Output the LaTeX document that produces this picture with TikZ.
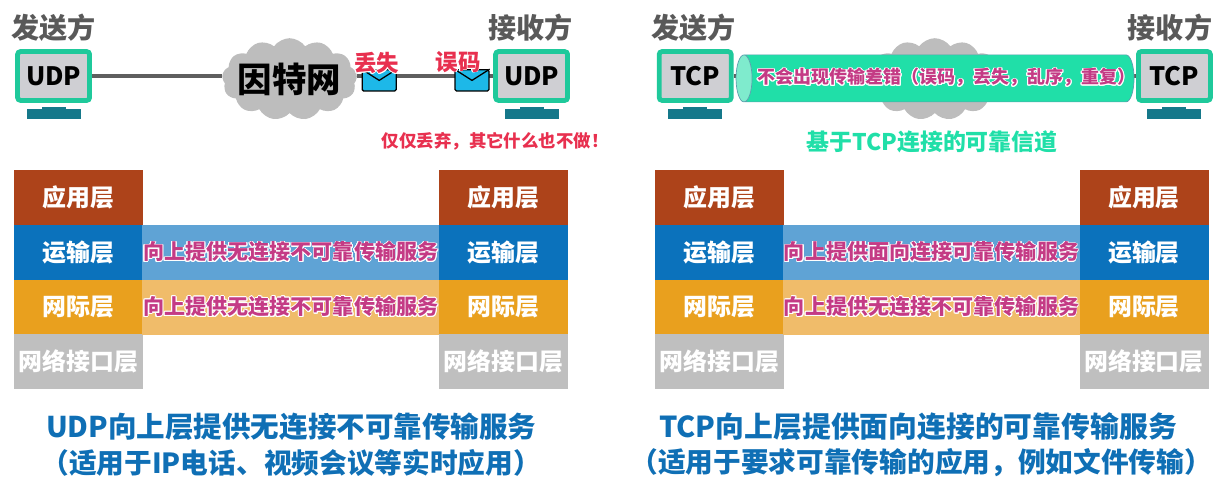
\documentclass[tikz,border=0pt]{standalone}
\usepackage{fontspec}
\usepackage[copies]{contour}
\usetikzlibrary{shapes.geometric, shapes.symbols}
\setmainfont{Noto Sans CJK SC}
\contourlength{0.6pt}
\contournumber{16}
\definecolor{monitorgreen}{HTML}{1FC99B}
\definecolor{screengray}{HTML}{CFCFD3}
\definecolor{standteal}{HTML}{15788A}
\definecolor{labelgray}{HTML}{595959}
\definecolor{linkgray}{HTML}{5F5F5F}
\definecolor{cloudgray}{HTML}{BDBDBD}
\definecolor{mailblue}{HTML}{1DB8E8}
\definecolor{alertred}{HTML}{E8304F}
\definecolor{appbrown}{HTML}{AD431A}
\definecolor{transblue}{HTML}{0B72BC}
\definecolor{netorange}{HTML}{E9A01E}
\definecolor{linkrowgray}{HTML}{BFBFBF}
\definecolor{bandblue}{HTML}{5FA3D5}
\definecolor{bandorange}{HTML}{F0BC6A}
\definecolor{servicepink}{HTML}{C43B85}
\definecolor{tubegreen}{HTML}{20DFA8}
\definecolor{tubeend}{HTML}{7FEBCD}
\definecolor{titleblue}{HTML}{0F6FB5}
\newcommand{\fsize}[1]{\fontsize{#1}{#1}\selectfont\bfseries}
\newcommand{\halo}[1]{\contour{white}{#1}}
\newcommand{\wcomma}{\symbol{"FF0C}}
\newcommand{\wbang}{\symbol{"FF01}}
\newcommand{\wopen}{\symbol{"FF08}}
\newcommand{\wclose}{\symbol{"FF09}}
\begin{document}
\begin{tikzpicture}
	[
		role/.style={text=labelgray, font=\fsize{20}, inner sep=0pt},
		monitor/.style={minimum width=1.8cm, minimum height=1.22cm, inner sep=0pt, draw=monitorgreen, line width=3.4pt, fill=screengray, rounded corners=2pt, font=\fsize{18}},
		neck/.style={minimum width=0.6cm, minimum height=0.2cm, inner sep=0pt, fill=standteal},
		foot/.style={minimum width=1.35cm, minimum height=0.25cm, inner sep=0pt, fill=standteal},
		inet/.style={cloud, cloud puffs=13, cloud puff arc=110, aspect=1.6, minimum width=3.375cm, minimum height=2.05cm, inner sep=0pt, fill=cloudgray},
		link/.style={draw=linkgray, line width=2.6pt},
		mail/.style={minimum width=0.85cm, minimum height=0.53cm, inner sep=0pt, draw=black, line width=0.9pt, fill=mailblue, rounded corners=1pt},
		flap/.style={draw=black, line width=0.9pt},
		alert/.style={text=alertred, inner sep=0pt},
		layer/.style={minimum width=3.225cm, minimum height=1.375cm, inner sep=0pt, text=white, font=\fsize{17}},
		band/.style={minimum width=7.425cm, minimum height=1.375cm, inner sep=0pt, text=servicepink, font=\fsize{15}},
		title/.style={text=titleblue, inner sep=0pt, font=\fsize{20.3}},
		note/.style={text=titleblue, inner sep=0pt, font=\fsize{19.7}}
	]

	\useasboundingbox (0, 0) rectangle (30.425, 12.5);

	% left side, UDP
	\node (sendl)  at (1.33, 11.8) [role] {发送方};
	\node (recvl)  at (13.27, 11.8) [role] {接收方};
	\node (udpl)   at (1.34, 10.6) [monitor] {UDP};
	\node (udpr)   at (13.29, 10.6) [monitor] {UDP};
	\node (neckl)  at (1.34, 9.73) [neck] {};
	\node (footl)  at (1.34, 9.65) [foot] {};
	\node (neckr)  at (13.29, 9.73) [neck] {};
	\node (footr)  at (13.29, 9.65) [foot] {};
	\node (inetl)  at (7.24, 10.52) [inet] {};
	\node (inettext) at (inetl.center) [font=\fsize{24.5}, inner sep=0pt] {因特网};

	\draw [link] (udpl.east) -- (udpl.east -| inetl.west);
	\draw [link] (inetl.east |- udpr.west) -- (udpr.west);

	\node (maila)  at (9.48, 10.49) [mail] {};
	\node (mailb)  at (11.8, 10.49) [mail] {};
	\draw [flap] (maila.north west) -- (maila.center) -- (maila.north east);
	\draw [flap] (mailb.north west) -- (mailb.center) -- (mailb.north east);
	\node (lost)   at (9.42, 10.92) [alert, font=\fsize{16}] {\halo{丢失}};
	\node (wrong)  at (11.45, 10.95) [alert, font=\fsize{16}] {\halo{误码}};
	\node (drop)   at (12.38, 8.95) [alert, font=\fsize{12.4}] {\halo{仅仅丢弃\wcomma 其它什么也不做\wbang}};

	\node (appl)   at (1.96, 7.56) [layer, fill=appbrown] {应用层};
	\node (tral)   at (1.96, 6.19) [layer, fill=transblue] {运输层};
	\node (netl)   at (1.96, 4.82) [layer, fill=netorange] {网际层};
	\node (lnkl)   at (1.96, 3.46) [layer, fill=linkrowgray] {网络接口层};
	\node (appr)   at (12.58, 7.56) [layer, fill=appbrown] {应用层};
	\node (trar)   at (12.58, 6.19) [layer, fill=transblue] {运输层};
	\node (netr)   at (12.58, 4.82) [layer, fill=netorange] {网际层};
	\node (lnkr)   at (12.58, 3.46) [layer, fill=linkrowgray] {网络接口层};
	\node (bandta) at (7.27, 6.19) [band, fill=bandblue] {\halo{向上提供无连接不可靠传输服务}};
	\node (bandna) at (7.27, 4.82) [band, fill=bandorange] {\halo{向上提供无连接不可靠传输服务}};

	\node (titlea) at (7.28, 1.83) [title] {UDP向上层提供无连接不可靠传输服务};
	\node (notea)  at (7.28, 0.93) [note] {\wopen 适用于IP电话、视频会议等实时应用\wclose};

	% right side, TCP
	\node (sends)  at (17.33, 11.8) [role] {发送方};
	\node (recvs)  at (29.25, 11.8) [role] {接收方};
	\node (tcpl)   at (17.38, 10.6) [monitor] {TCP};
	\node (tcpr)   at (29.36, 10.6) [monitor] {TCP};
	\node (neckc)  at (17.38, 9.73) [neck] {};
	\node (footc)  at (17.38, 9.65) [foot] {};
	\node (neckd)  at (29.36, 9.73) [neck] {};
	\node (footd)  at (29.36, 9.65) [foot] {};
	\node (inets)  at (23.37, 10.52) [inet] {};

	\draw [link] (tcpl.east) -- (tcpr.west);

	\node (tube)   at (23.48, 10.54) [cylinder, shape border rotate=180, aspect=0.5, text height=0.8cm, minimum width=1.175cm, minimum height=9.95cm, inner sep=0pt, cylinder uses custom fill, cylinder body fill=tubegreen, cylinder end fill=tubeend, draw=standteal!70, line width=0.5pt] {};
	\node (tubetext) at (23.66, 10.55) [text=servicepink, inner sep=0pt, font=\fsize{12.8}] {\halo{不会出现传输差错\wopen 误码\wcomma 丢失\wcomma 乱序\wcomma 重复\wclose}};
	\node (chan)   at (23.3, 8.95) [text=tubegreen, inner sep=0pt, font=\fsize{16.3}] {基于TCP连接的可靠信道};

	\node (apps)   at (17.98, 7.56) [layer, fill=appbrown] {应用层};
	\node (tras)   at (17.98, 6.19) [layer, fill=transblue] {运输层};
	\node (nets)   at (17.98, 4.82) [layer, fill=netorange] {网际层};
	\node (lnks)   at (17.98, 3.46) [layer, fill=linkrowgray] {网络接口层};
	\node (appd)   at (28.6, 7.56) [layer, fill=appbrown] {应用层};
	\node (trad)   at (28.6, 6.19) [layer, fill=transblue] {运输层};
	\node (netd)   at (28.6, 4.82) [layer, fill=netorange] {网际层};
	\node (lnkd)   at (28.6, 3.46) [layer, fill=linkrowgray] {网络接口层};
	\node (bandtb) at (23.29, 6.19) [band, fill=bandblue] {\halo{向上提供面向连接可靠传输服务}};
	\node (bandnb) at (23.29, 4.82) [band, fill=bandorange] {\halo{向上提供无连接不可靠传输服务}};

	\node (titleb) at (22.95, 1.83) [title, font=\fsize{20.5}] {TCP向上层提供面向连接的可靠传输服务};
	\node (noteb)  at (23.03, 0.93) [note] {\wopen 适用于要求可靠传输的应用\wcomma 例如文件传输\wclose};
\end{tikzpicture}
\end{document}
